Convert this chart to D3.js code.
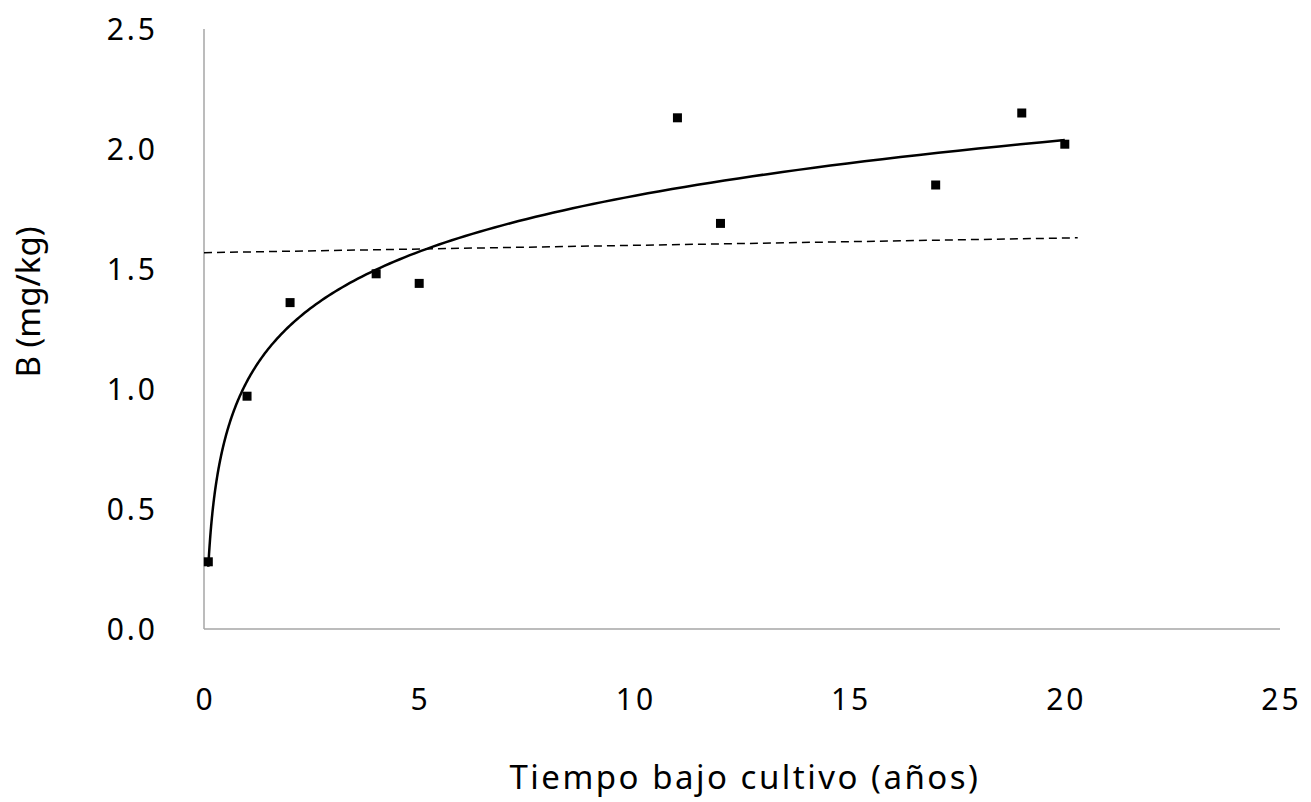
<!DOCTYPE html>
<html><head><meta charset="utf-8">
<script src="https://cdn.jsdelivr.net/npm/d3@7"></script>
<style>body{margin:0;background:#fff}text{font-family:"Noto Sans",sans-serif;fill:#000}</style>
</head><body><svg id="c" width="1311" height="802"></svg>
<script>
const years = [0.1, 1, 2, 4, 5, 11, 12, 17, 19, 20];
const boron = [0.28, 0.97, 1.36, 1.48, 1.44, 2.13, 1.69, 1.85, 2.15, 2.02];
const xTicks = [0, 5, 10, 15, 20, 25];
const yTicks = [0, 0.5, 1.0, 1.5, 2.0, 2.5];
const dashX = [0, 20.3];
const dashY = [1.568, 1.630];

const svg = d3.select("#c");
const x = d3.scaleLinear().domain([0, 25]).range([204, 1280]);
const y = d3.scaleLinear().domain([0, 2.5]).range([629, 29]);

// axes lines
svg.append("line").attr("x1", x(0)).attr("x2", x(0)).attr("y1", y(2.5)).attr("y2", y(0)).attr("stroke", "#a6a6a6").attr("stroke-width", 1.5);
svg.append("line").attr("x1", x(0)).attr("x2", x(25)).attr("y1", y(0)).attr("y2", y(0)).attr("stroke", "#a6a6a6").attr("stroke-width", 1.5);

svg.selectAll(".yt").data(yTicks).enter().append("text")
  .attr("x", 158).attr("y", d => y(d)).attr("dy", "0.36em").attr("text-anchor", "end")
  .attr("font-size", 30).attr("letter-spacing", 3).text(d => d.toFixed(1));
svg.selectAll(".xt").data(xTicks).enter().append("text")
  .attr("x", d => x(d) + 1.5).attr("y", 710).attr("text-anchor", "middle")
  .attr("font-size", 30).attr("letter-spacing", 3).text(d => d);

svg.append("text").attr("x", 745).attr("y", 789).attr("text-anchor", "middle")
  .attr("font-size", 33).attr("letter-spacing", 2.5).text("Tiempo bajo cultivo (años)");
svg.append("text").attr("transform", "translate(40,302) rotate(-90)").attr("text-anchor", "middle")
  .attr("font-size", 33).attr("letter-spacing", 0).text("B (mg/kg)");

// logarithmic trendline (least squares of y on ln x)
const L = years.map(Math.log);
const mL = d3.mean(L), mY = d3.mean(boron);
const b = d3.sum(L.map((l, i) => (l - mL) * (boron[i] - mY))) / d3.sum(L.map(l => (l - mL) ** 2));
const a = mY - b * mL;
const xs = d3.range(0, 201).map(i => Math.exp(Math.log(0.1) + i / 200 * (Math.log(20) - Math.log(0.1))));
svg.append("path").datum(xs).attr("fill", "none").attr("stroke", "#000").attr("stroke-width", 2.5)
  .attr("d", d3.line().x(d => x(d)).y(d => y(a + b * Math.log(d))));

// dashed line
svg.append("path").datum(dashX.map((d, i) => [d, dashY[i]])).attr("fill", "none").attr("stroke", "#000")
  .attr("stroke-width", 1.5).attr("stroke-dasharray", "8,5")
  .attr("d", d3.line().x(d => x(d[0])).y(d => y(d[1])));

// markers
svg.selectAll(".pt").data(years).enter().append("rect")
  .attr("x", d => x(d) - 4.5).attr("y", (d, i) => y(boron[i]) - 4.5)
  .attr("width", 9).attr("height", 9).attr("fill", "#000");
</script></body></html>
